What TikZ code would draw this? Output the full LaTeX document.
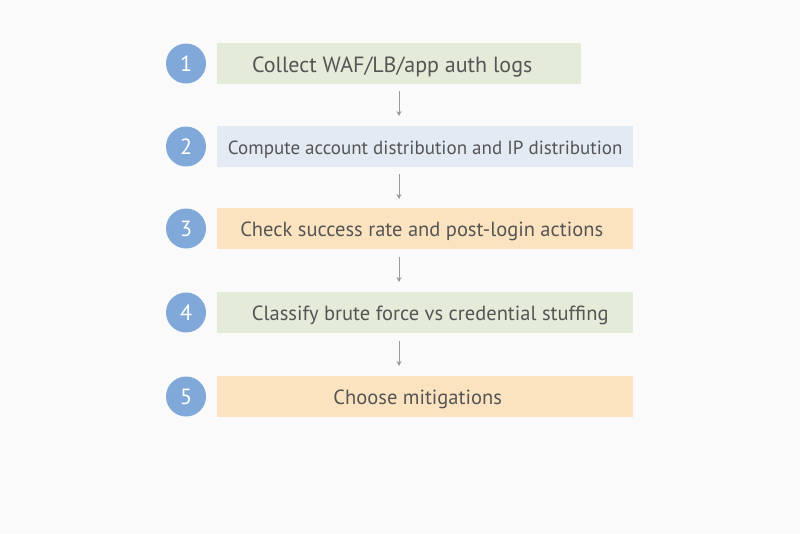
\documentclass[tikz,border=0pt]{standalone}
\usepackage{fontspec}
\setmainfont{PT Sans}
\usetikzlibrary{arrows.meta}
\definecolor{bg}{HTML}{FAFAFB}
\definecolor{gbox}{HTML}{E4EBD9}
\definecolor{bbox}{HTML}{E3EAF4}
\definecolor{obox}{HTML}{FCE3C0}
\definecolor{circ}{HTML}{80A8D8}
\definecolor{txt}{HTML}{555555}
\begin{document}
\begin{tikzpicture}[x=1pt,y=-1pt,
  box/.style={rectangle,anchor=west,minimum height=41pt,inner sep=0pt},
  lbl/.style={text=txt,font=\fontsize{20.5}{24}\selectfont,yshift=-3pt},
  num/.style={circle,fill=circ,minimum size=40pt,inner sep=0pt,text=white,font=\fontsize{22}{24}\selectfont},
  arr/.style={draw=gray!80,line width=0.8pt,-{Stealth[length=5pt,width=5pt]}}]
\fill[bg] (0,0) rectangle (800,533);
\useasboundingbox (0,0) rectangle (800,533);
\node[box,fill=gbox,minimum width=364pt] (b1) at (217,63.5) {};
\node[box,fill=bbox,minimum width=416pt] (b2) at (217,146.5) {};
\node[box,fill=obox,minimum width=416pt] (b3) at (217,228.5) {};
\node[box,fill=gbox,minimum width=416pt] (b4) at (217,312.5) {};
\node[box,fill=obox,minimum width=416pt] (b5) at (217,396.5) {};
\node[lbl,xshift=-7pt,font=\fontsize{22}{24}\selectfont] (t1) at (b1.center) {Collect WAF/LB/app auth logs};
\node[lbl,font=\fontsize{19}{22}\selectfont] (t2) at (b2.center) {Compute account distribution and IP distribution};
\node[lbl,xshift=-3.5pt] (t3) at (b3.center) {Check success rate and post-login actions};
\node[lbl,xshift=5pt] (t4) at (b4.center) {Classify brute force vs credential stuffing};
\node[lbl,xshift=-7.5pt] (t5) at (b5.center) {Choose mitigations};
\foreach \i/\y in {1/63.5,2/146.5,3/228.5,4/312.5,5/396.5}
  \node[num] (n\i) at (186,\y) {\i};
\coordinate (a1s) at (399,91); \coordinate (a1e) at (399,116);
\coordinate (a2s) at (399,174); \coordinate (a2e) at (399,199);
\coordinate (a3s) at (399,257); \coordinate (a3e) at (399,282);
\coordinate (a4s) at (399,341); \coordinate (a4e) at (399,366);
\foreach \i in {1,2,3,4} \draw[arr] (a\i s) -- (a\i e);
\end{tikzpicture}
\end{document}
